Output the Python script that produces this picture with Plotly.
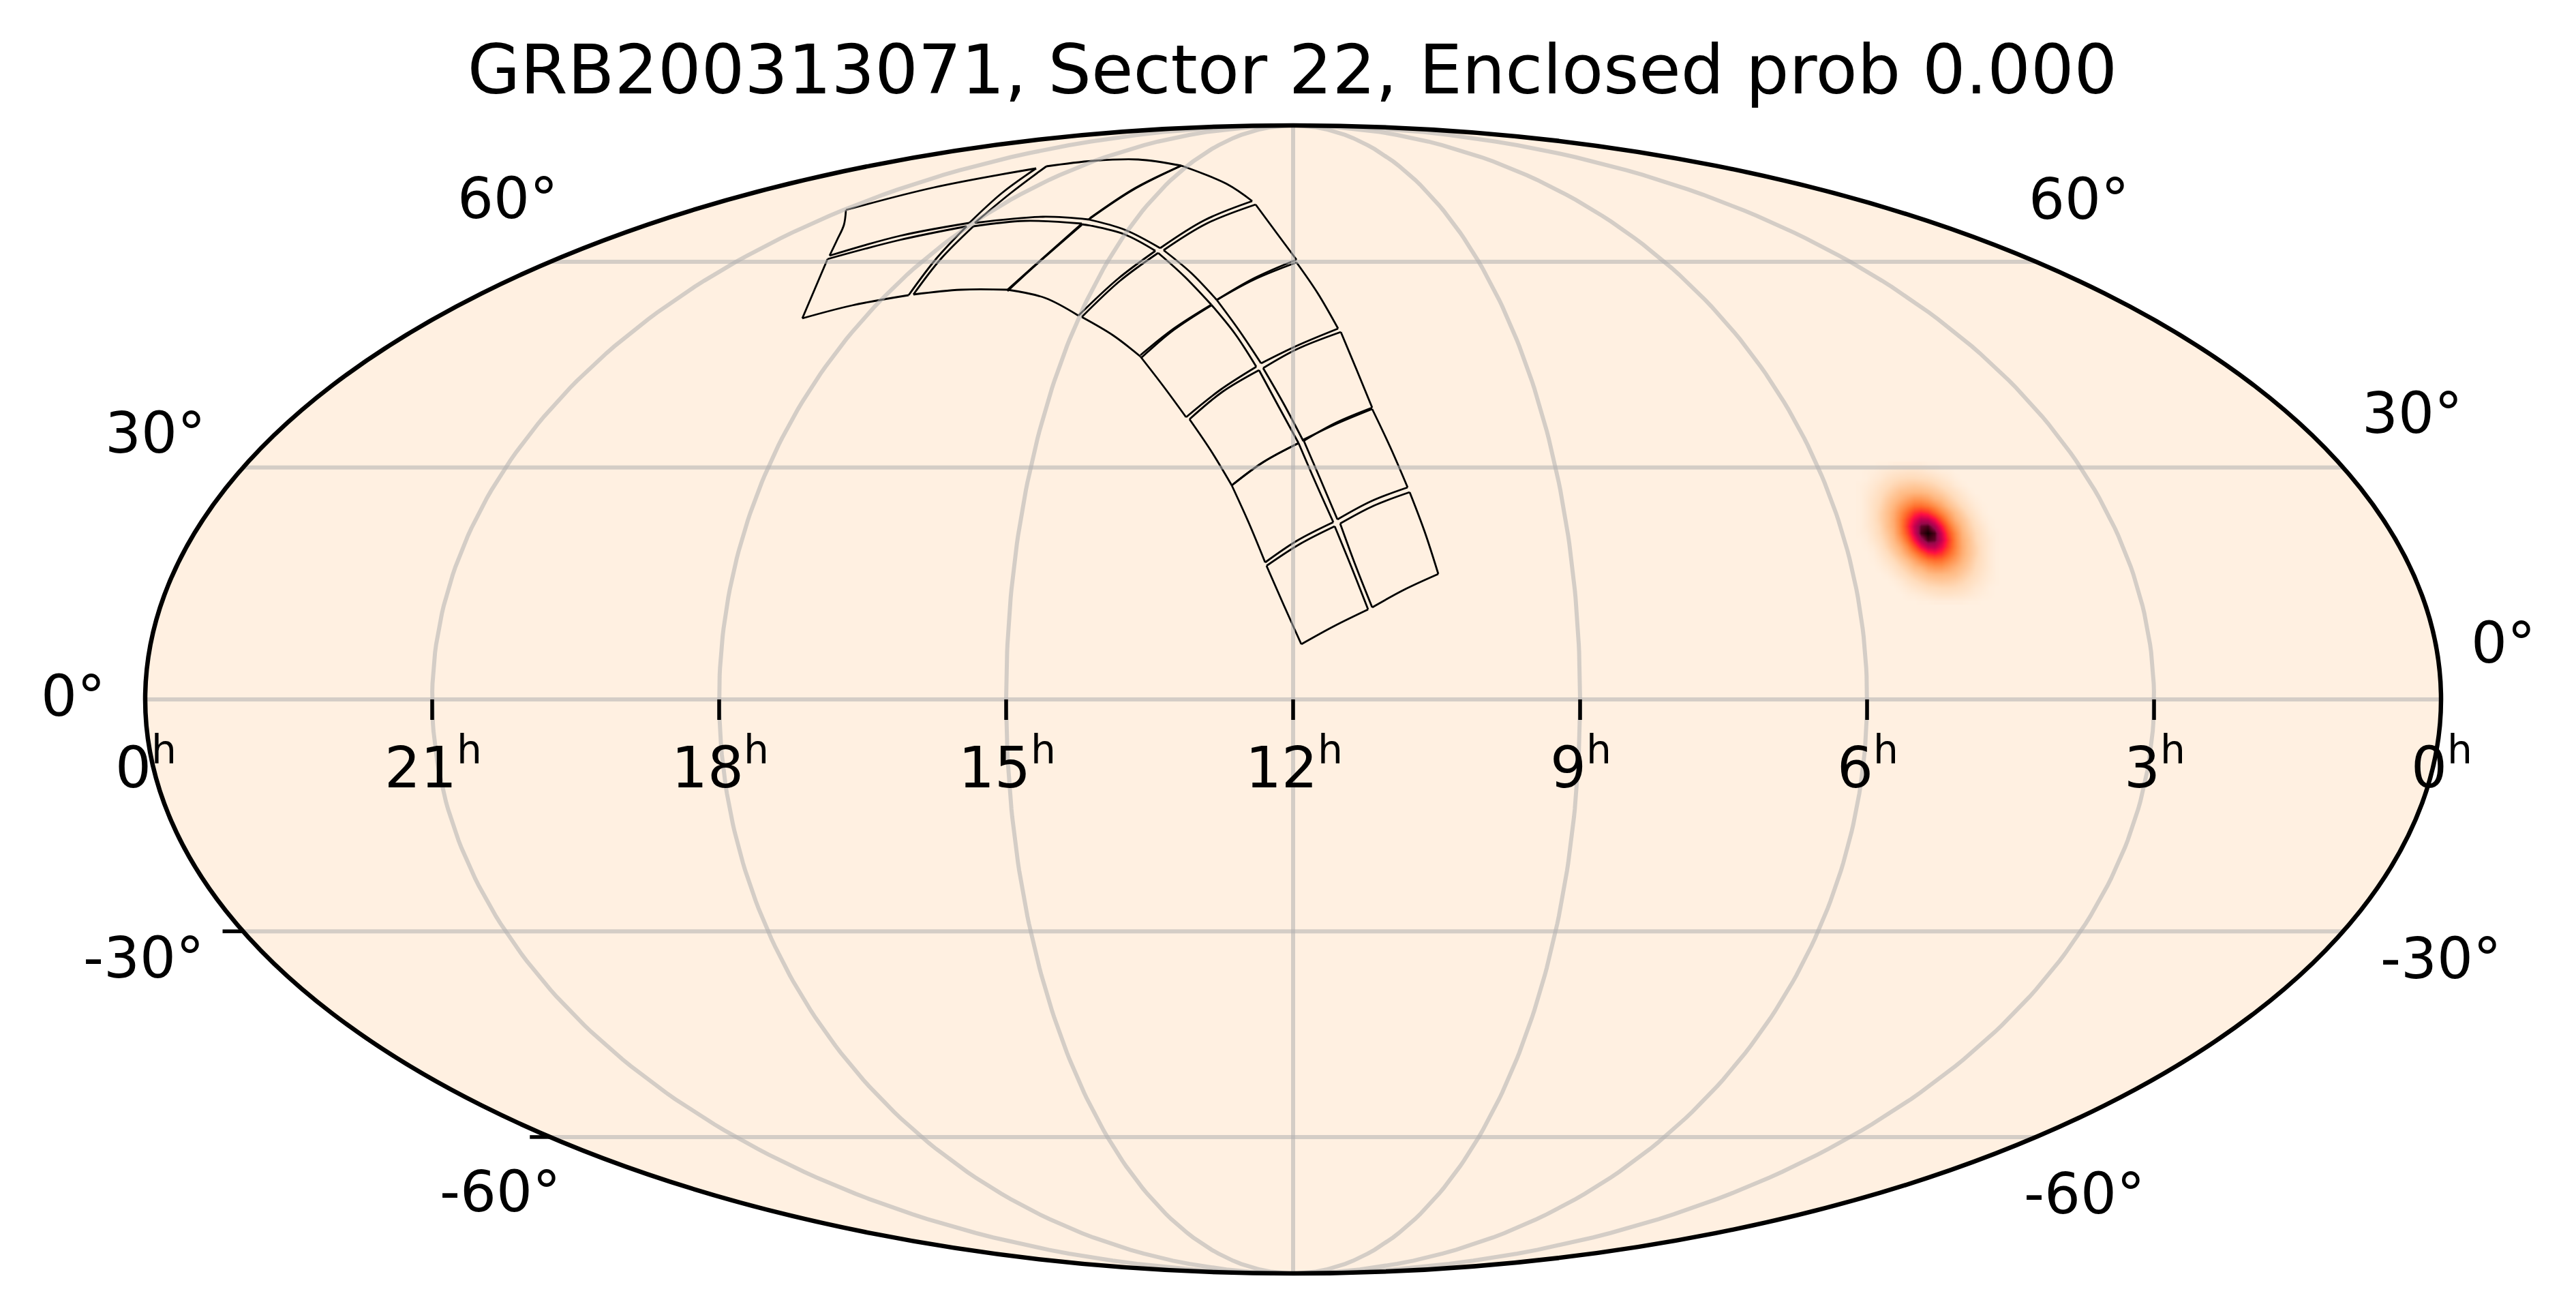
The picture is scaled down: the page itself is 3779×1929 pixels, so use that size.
import numpy as np
import plotly.graph_objects as go

FONT = "DejaVu Sans"
TITLE = "GRB200313071, Sector 22, Enclosed prob 0.000"
BG_COLOR = "#fff0e1"
GRID_COLOR = "rgba(176,176,176,0.55)"

# map plane: half width 1684, half height 842
MAP_A = 1684
MAP_B = 842

HOURS = [0, 21, 18, 15, 12, 9, 6, 3, 0]
HOUR_OFFSETS = [-12, -9, -6, -3, 0, 3, 6, 9, 12]
LATS = [-60, -30, 0, 30, 60]

HOUR_LABEL_Y = -94
LAT_TEXT = ["60°", "60°", "30°", "30°", "0°", "0°", "-30°", "-30°", "-60°", "-60°"]
LAT_TEXT_X = [-1152, 1153, -1669, 1642, -1790, 1775, -1686, 1684, -1163, 1161]
LAT_TEXT_Y = [735, 734, 391, 420, 5, 83, -379, -380, -722, -725]

# camera footprints in map plane units, one list per edge
tile_1a = [
    [(171, 304), (193, 246), (213, 184)],
    [(213, 184), (163, 161), (116, 135)],
    [(116, 135), (91, 198), (69, 258)],
    [(69, 258), (118, 284), (171, 304)],
]
tile_1b = [
    [(61, 254), (86, 193), (110, 132)],
    [(110, 132), (61, 108), (12, 81)],
    [(12, 81), (-14, 139), (-39, 196)],
    [(-39, 196), (10, 228), (61, 254)],
]
tile_2a = [
    [(116, 426), (143, 369), (168, 311)],
    [(168, 311), (115, 291), (65, 264)],
    [(65, 264), (40, 323), (15, 381)],
    [(15, 381), (63, 404), (116, 426)],
]
tile_2b = [
    [(8, 376), (33, 318), (59, 260)],
    [(59, 260), (6, 233), (-41, 201)],
    [(-41, 201), (-65, 259), (-90, 314)],
    [(-90, 314), (-44, 348), (8, 376)],
]
tile_3a = [
    [(70, 539), (93, 484), (116, 428)],
    [(116, 428), (63, 406), (15, 379)],
    [(15, 379), (-14, 434), (-44, 486)],
    [(-44, 486), (6, 514), (70, 539)],
]
tile_3b = [
    [(-50, 483), (-22, 431), (8, 376)],
    [(8, 376), (-44, 348), (-90, 314)],
    [(-90, 314), (-120, 364), (-152, 411)],
    [(-152, 411), (-104, 451), (-50, 483)],
]
tile_4a = [
    [(5, 641), (36, 596), (66, 544)],
    [(66, 544), (6, 519), (-47, 493)],
    [(-47, 493), (-79, 541), (-112, 586)],
    [(-112, 586), (-57, 616), (5, 641)],
]
tile_4b = [
    [(-120, 579), (-85, 536), (-54, 488)],
    [(-54, 488), (-107, 454), (-157, 414)],
    [(-157, 414), (-190, 459), (-224, 503)],
    [(-223, 501), (-175, 542), (-120, 578)],
]
tile_5a = [
    [(-55, 726), (-24, 684), (5, 645)],
    [(5, 645), (-57, 618), (-112, 586)],
    [(-112, 586), (-150, 626), (-190, 659)],
    [(-190, 659), (-127, 698), (-55, 726)],
]
tile_5b = [
    [(-310, 561), (-254, 614), (-198, 655)],
    [(-198, 655), (-160, 621), (-120, 579)],
    [(-120, 579), (-175, 544), (-224, 505)],
    [(-224, 503), (-264, 534), (-310, 561)],
]
tile_6a = [
    [(-164, 783), (-97, 756), (-60, 731)],
    [(-60, 731), (-130, 703), (-195, 662)],
    [(-195, 662), (-247, 689), (-300, 704)],
    [(-298, 706), (-232, 750), (-164, 783)],
]
tile_6b = [
    [(-310, 697), (-297, 695), (-247, 682), (-202, 658)],
    [(-202, 658), (-257, 617), (-315, 563)],
    [(-315, 563), (-364, 589), (-419, 601)],
    [(-419, 599), (-381, 634), (-310, 696)],
]
tile_7a = [
    [(-362, 782), (-294, 790), (-227, 792), (-164, 783)],
    [(-362, 782), (-414, 743), (-467, 699)],
    [(-164, 783), (-234, 748), (-300, 704)],
    [(-467, 699), (-367, 708), (-300, 704)],
]
tile_7b = [
    [(-469, 694), (-394, 702), (-310, 698)],
    [(-557, 594), (-517, 646), (-469, 694)],
    [(-419, 601), (-380, 636), (-310, 698)],
    [(-557, 594), (-487, 601), (-419, 601)],
]
tile_8a = [
    [(-656, 718), (-527, 751), (-377, 779)],
    [(-656, 718), (-659, 696), (-669, 674), (-680, 651)],
    [(-680, 651), (-577, 680), (-475, 699)],
    [(-475, 699), (-427, 743), (-377, 779)],
]
tile_8b = [
    [(-683, 646), (-720, 559)],
    [(-683, 646), (-577, 674), (-479, 694)],
    [(-479, 694), (-524, 646), (-564, 593)],
    [(-720, 559), (-647, 578), (-564, 593)],
]

TILES = [
    tile_1a, tile_1b, tile_2a, tile_2b, tile_3a, tile_3b, tile_4a, tile_4b,
    tile_5a, tile_5b, tile_6a, tile_6b, tile_7a, tile_7b, tile_8a, tile_8b,
]

# probability blob, in percent of the peak, 10 map units per cell
PROB = [
    [0, 0, 0, 1, 1, 2, 2, 2, 2, 2, 1, 1, 0, 0, 0, 0, 0, 0, 0, 0, 0],
    [0, 1, 2, 4, 6, 8, 9, 10, 10, 9, 7, 5, 3, 2, 0, 0, 0, 0, 0, 0, 0],
    [0, 1, 4, 6, 10, 13, 15, 16, 16, 15, 14, 11, 8, 5, 2, 0, 0, 0, 0, 0, 0],
    [1, 3, 6, 10, 14, 18, 21, 23, 24, 23, 21, 18, 14, 10, 5, 2, 0, 0, 0, 0, 0],
    [1, 4, 8, 13, 18, 23, 28, 30, 31, 31, 29, 25, 21, 16, 11, 6, 2, 0, 0, 0, 0],
    [1, 5, 10, 15, 22, 28, 33, 38, 42, 42, 39, 33, 29, 22, 16, 10, 5, 2, 0, 0, 0],
    [1, 5, 11, 17, 25, 32, 40, 47, 53, 54, 51, 45, 37, 29, 22, 15, 9, 4, 1, 0, 0],
    [1, 5, 11, 19, 27, 35, 46, 56, 66, 70, 67, 58, 48, 38, 29, 21, 13, 7, 2, 0, 0],
    [1, 5, 11, 19, 27, 36, 49, 63, 76, 84, 83, 74, 60, 46, 34, 26, 18, 10, 4, 1, 0],
    [1, 5, 10, 17, 27, 35, 49, 66, 82, 94, 96, 87, 72, 55, 41, 30, 21, 13, 7, 2, 0],
    [1, 3, 9, 16, 24, 33, 47, 62, 80, 96, 100, 96, 80, 62, 47, 33, 24, 16, 9, 3, 1],
    [0, 2, 7, 13, 21, 30, 41, 55, 72, 87, 96, 94, 82, 66, 49, 35, 27, 17, 10, 5, 1],
    [0, 1, 4, 10, 18, 26, 34, 46, 60, 74, 83, 84, 76, 63, 49, 36, 27, 19, 11, 5, 1],
    [0, 0, 2, 7, 13, 21, 29, 38, 48, 58, 67, 70, 66, 56, 46, 35, 27, 19, 11, 5, 1],
    [0, 0, 1, 4, 9, 15, 22, 29, 37, 45, 51, 54, 53, 47, 40, 32, 25, 17, 11, 5, 1],
    [0, 0, 0, 2, 5, 10, 16, 22, 29, 33, 39, 42, 42, 38, 33, 28, 22, 15, 10, 5, 1],
    [0, 0, 0, 0, 2, 6, 11, 16, 21, 25, 29, 31, 31, 30, 28, 23, 18, 13, 8, 4, 1],
    [0, 0, 0, 0, 0, 2, 5, 10, 14, 18, 21, 23, 24, 23, 21, 18, 14, 10, 6, 3, 1],
    [0, 0, 0, 0, 0, 0, 2, 5, 8, 11, 14, 15, 16, 16, 15, 13, 10, 6, 4, 1, 0],
    [0, 0, 0, 0, 0, 0, 0, 2, 3, 5, 7, 9, 10, 10, 9, 8, 6, 4, 2, 1, 0],
    [0, 0, 0, 0, 0, 0, 0, 0, 0, 1, 1, 2, 2, 2, 2, 2, 1, 1, 0, 0, 0],
]

PROB_COLORS = [
    [0.0, "#fff0e1"], [0.15, "#ffdcbc"], [0.3, "#ffbb85"], [0.45, "#ff8f4a"],
    [0.55, "#ff6a2a"], [0.65, "#ff3a28"], [0.72, "#ff0f42"], [0.82, "#c80050"],
    [0.9, "#96084a"], [0.96, "#4a0018"], [1.0, "#100000"],
]


def mollweide(hour_offset, lat):
    lat = np.radians(np.asarray(lat, dtype=float))
    theta = lat.copy()
    for _ in range(50):
        d = 2 * np.cos(2 * theta) + 2
        step = np.where(d > 1e-9, (2 * theta + np.sin(2 * theta) - np.pi * np.sin(lat)) / np.where(d > 1e-9, d, 1), 0)
        theta = theta - step
    return MAP_A * hour_offset / 12 * np.cos(theta), MAP_B * np.sin(theta)


fig = go.Figure()

fig.add_trace(
    go.Heatmap(
        z=PROB,
        x0=831,
        dx=10,
        y0=344,
        dy=-10,
        zmin=0,
        zmax=100,
        zsmooth="best",
        colorscale=PROB_COLORS,
        showscale=False,
        hoverinfo="skip",
    )
)

# footprints
xs, ys = [], []
for tile in TILES:
    for edge in tile:
        xs += [p[0] for p in edge] + [None]
        ys += [p[1] for p in edge] + [None]
fig.add_trace(
    go.Scatter(
        x=xs,
        y=ys,
        mode="lines",
        line=dict(color="black", width=2.8, shape="spline", smoothing=1),
        hoverinfo="skip",
    )
)

# graticule
gx, gy = [], []
for h in HOUR_OFFSETS[1:-1]:
    mx, my = mollweide(h, np.linspace(-89.9, 89.9, 181))
    gx += list(mx) + [None]
    gy += list(my) + [None]
for lat in LATS:
    mx, my = mollweide(np.array([-12, 12]), np.array([lat, lat]))
    gx += list(mx) + [None]
    gy += list(my) + [None]
fig.add_trace(
    go.Scatter(x=gx, y=gy, mode="lines", line=dict(color=GRID_COLOR, width=6), hoverinfo="skip")
)

# ticks, only the ones that show outside the grid
tx, ty = [], []
for h in HOUR_OFFSETS[1:-1]:
    tx += [MAP_A * h / 12, MAP_A * h / 12, None]
    ty += [0, -30, None]
for lat in [-30, -60]:
    mx, my = mollweide(np.array([-12]), np.array([lat]))
    tx += [mx[0], mx[0] - 30, None]
    ty += [my[0], my[0], None]
fig.add_trace(
    go.Scatter(x=tx, y=ty, mode="lines", line=dict(color="black", width=5.5), hoverinfo="skip")
)

for h, off in zip(HOURS, HOUR_OFFSETS):
    fig.add_annotation(
        x=MAP_A * off / 12 + 1,
        y=HOUR_LABEL_Y,
        text=f"{h}<sup>h</sup>",
        showarrow=False,
        xanchor="center",
        yanchor="middle",
        font=dict(family=FONT, size=83.3, color="black"),
    )
for text, x, y in zip(LAT_TEXT, LAT_TEXT_X, LAT_TEXT_Y):
    fig.add_annotation(
        x=x,
        y=y,
        text=text,
        showarrow=False,
        xanchor="center",
        yanchor="middle",
        font=dict(family=FONT, size=83.3, color="black"),
    )

# the page has an 8 px body margin, so the figure is 8 px short each way
fig.update_layout(
    width=3771,
    height=1921,
    margin=dict(l=0, r=0, t=0, b=0),
    paper_bgcolor="white",
    plot_bgcolor="white",
    showlegend=False,
    title=dict(
        text=TITLE,
        x=1888 / 3771,
        xanchor="center",
        y=1 - 94 / 1921,
        yanchor="middle",
        font=dict(family=FONT, size=100, color="black"),
    ),
    xaxis=dict(range=[-1889, 1882], visible=False),
    yaxis=dict(range=[-903, 1018], visible=False),
    shapes=[
        dict(
            type="circle",
            layer="below",
            xref="x",
            yref="y",
            x0=-MAP_A,
            x1=MAP_A,
            y0=-MAP_B,
            y1=MAP_B,
            fillcolor=BG_COLOR,
            line=dict(width=0),
        ),
        dict(
            type="circle",
            layer="above",
            xref="x",
            yref="y",
            x0=-MAP_A,
            x1=MAP_A,
            y0=-MAP_B,
            y1=MAP_B,
            line=dict(color="black", width=6.5),
        ),
    ],
)

fig.write_html("out.html")
